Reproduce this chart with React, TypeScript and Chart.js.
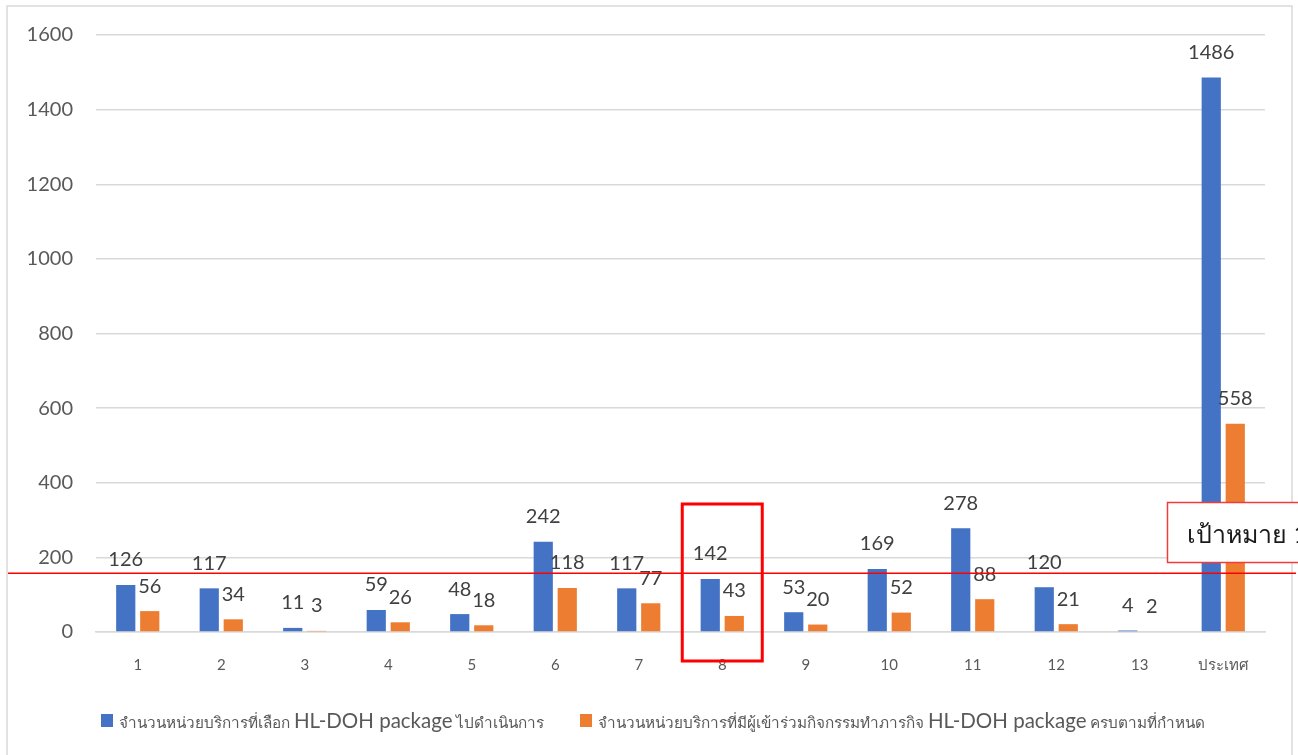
import React, { useEffect, useRef } from "react";
import { Chart, registerables } from "chart.js";

Chart.register(...registerables);

const categories = ["1", "2", "3", "4", "5", "6", "7", "8", "9", "10", "11", "12", "13", "ประเทศ"];
const selectedUnits = [126, 117, 11, 59, 48, 242, 117, 142, 53, 169, 278, 120, 4, 1486];
const completedUnits = [56, 34, 3, 26, 18, 118, 77, 43, 20, 52, 88, 21, 2, 558];
const yTicks = [0, 200, 400, 600, 800, 1000, 1200, 1400, 1600];
const targetValue = 158;
const highlightCategory = "8";
const legendParts1 = ["จำนวนหน่วยบริการที่เลือก ", "HL-DOH package", " ไปดำเนินการ"];
const legendParts2 = ["จำนวนหน่วยบริการที่มีผู้เข้าร่วมกิจกรรมทำภารกิจ ", "HL-DOH package", " ครบตามที่กำหนด"];
const targetText = "เป้าหมาย 1";

const BLUE = "#4472C4";
const ORANGE = "#ED7D31";
const FONT = "Lato, 'Noto Sans', sans-serif";

const overlayPlugin = {
  id: "overlay",
  beforeDraw(chart: any) {
    const ctx = chart.ctx;
    ctx.save();
    ctx.fillStyle = "#ffffff";
    ctx.fillRect(0, 0, chart.width, chart.height);
    ctx.strokeStyle = "#d9d9d9";
    ctx.lineWidth = 1.5;
    ctx.strokeRect(7, 6, 1285, 760);
    ctx.restore();
  },
  afterDatasetsDraw(chart: any) {
    const ctx = chart.ctx;
    ctx.save();
    ctx.font = `20px ${FONT}`;
    ctx.fillStyle = "#404040";
    ctx.textAlign = "center";
    ctx.textBaseline = "middle";
    chart.data.datasets.forEach((ds: any, di: number) => {
      const meta = chart.getDatasetMeta(di);
      meta.data.forEach((el: any, i: number) => {
        ctx.fillText(String(ds.data[i]), el.x, el.y - 25);
      });
    });
    ctx.restore();
  },
  afterDraw(chart: any) {
    const ctx = chart.ctx;
    const y = chart.scales.y;
    const x = chart.scales.x;
    ctx.save();
    // target line
    const ty = Math.round(y.getPixelForValue(targetValue));
    ctx.fillStyle = "#ff0000";
    ctx.fillRect(8, ty - 0.5, 1288, 1.5);

    // highlight rectangle around category 8
    const hi = categories.indexOf(highlightCategory);
    const cx = x.getPixelForValue(hi);
    ctx.strokeStyle = "#ff0000";
    ctx.lineWidth = 3;
    ctx.strokeRect(cx - 40, 504, 80, 157);

    // target text box
    ctx.fillStyle = "#ffffff";
    ctx.fillRect(1167, 502, 140, 60);
    ctx.strokeStyle = "#f23c3c";
    ctx.lineWidth = 1.5;
    ctx.strokeRect(1167.5, 502.5, 140, 60);
    ctx.fillStyle = "#1a1a1a";
    ctx.font = `25px ${FONT}`;
    ctx.textAlign = "left";
    ctx.textBaseline = "middle";
    ctx.fillText(targetText, 1187, 535);

    // legend
    const drawLegend = (sx: number, color: string, parts: string[]) => {
      ctx.fillStyle = color;
      ctx.fillRect(sx, 714, 12, 13);
      let px = sx + 18;
      ctx.fillStyle = "#595959";
      ctx.textBaseline = "alphabetic";
      parts.forEach((p, i) => {
        ctx.font = i === 1 ? `20.5px ${FONT}` : `15.3px ${FONT}`;
        ctx.fillText(p, px, 728);
        px += ctx.measureText(p).width;
      });
    };
    drawLegend(101, BLUE, legendParts1);
    drawLegend(580, ORANGE, legendParts2);
    ctx.restore();
  },
};

export default function App() {
  const ref = useRef<HTMLCanvasElement>(null);
  useEffect(() => {
    if (!ref.current) return;
    const chart = new Chart(ref.current, {
      type: "bar",
      data: {
        labels: categories,
        datasets: [
          {
            label: legendParts1.join(""),
            data: selectedUnits,
            backgroundColor: BLUE,
            borderWidth: 0,
            categoryPercentage: 0.575,
            barPercentage: 0.8,
          },
          {
            label: legendParts2.join(""),
            data: completedUnits,
            backgroundColor: ORANGE,
            borderWidth: 0,
            categoryPercentage: 0.575,
            barPercentage: 0.8,
          },
        ],
      },
      options: {
        responsive: false,
        animation: false,
        layout: { padding: { left: 0, top: 35, right: 33, bottom: 0 } },
        plugins: { legend: { display: false }, tooltip: { enabled: false } },
        scales: {
          x: {
            grid: { display: false, drawTicks: false },
            border: { color: "#d9d9d9", width: 1.5 },
            ticks: { color: "#595959", font: { family: FONT, size: 15 }, padding: 24 },
            afterFit(scale: any) {
              scale.height = 755 - 632;
            },
          },
          y: {
            min: 0,
            max: 1600,
            afterBuildTicks(scale: any) {
              scale.ticks = yTicks.map((v) => ({ value: v }));
            },
            grid: { color: "#d9d9d9", lineWidth: 1.5, drawTicks: false },
            border: { display: false },
            ticks: {
              color: "#595959",
              font: { family: FONT, size: 20 },
              padding: 23,
              callback: (v: any) => String(v),
            },
            afterFit(scale: any) {
              scale.width = 96;
            },
          },
        },
      },
      plugins: [overlayPlugin],
    });
    return () => chart.destroy();
  }, []);
  return (
    <div style={{ position: "fixed", left: 0, top: 0, width: 1298, height: 755, background: "#fff" }}>
      <canvas ref={ref} width={1298} height={755} style={{ display: "block" }} />
    </div>
  );
}
